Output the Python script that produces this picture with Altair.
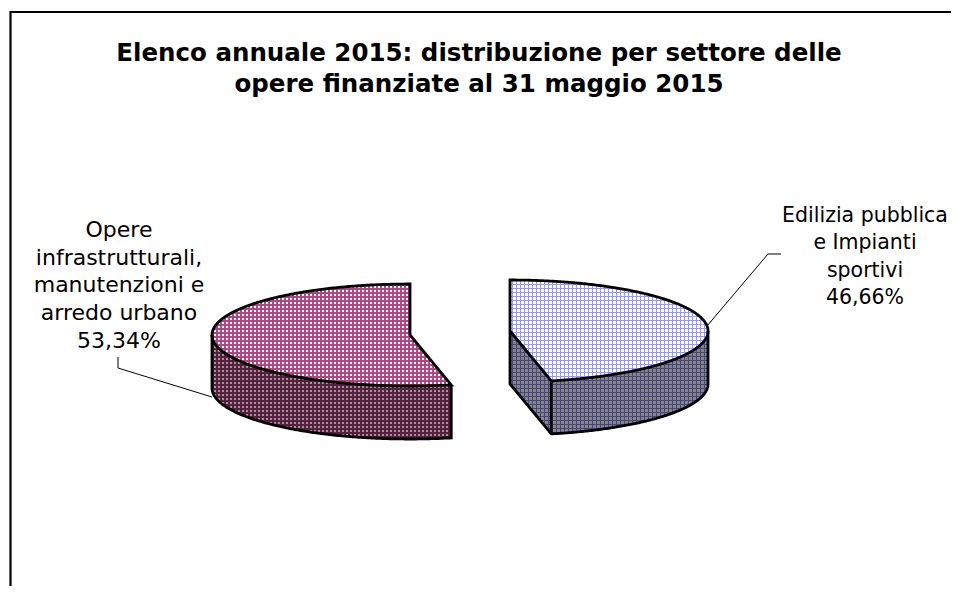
import altair as alt
import numpy as np
import pandas as pd

# Chart values
LABELS = ["Edilizia pubblica e Impianti sportivi", "Opere infrastrutturali, manutenzioni e arredo urbano"]
SHARES = [46.66, 53.34]
TITLE_LINES = ["Elenco annuale 2015: distribuzione per settore delle",
               "opere finanziate al 31 maggio 2015"]
RIGHT_TEXT = ["Edilizia pubblica", "e Impianti", "sportivi", "46,66%"]
LEFT_TEXT = ["Opere", "infrastrutturali,", "manutenzioni e", "arredo urbano", "53,34%"]

W, H = 943, 578
OX, OY = 8, 8  # page margin
RX, RY, DEPTH = 198.0, 51.0, 53.0
CR = (510 - OX, 331 - OY)
CL = (410 - OX, 335 - OY)
split = np.deg2rad(SHARES[0] * 3.6)

def ell(c, t, dy=0.0):
    return c[0] + RX * np.sin(t), c[1] - RY * np.cos(t) + dy

def stripes(lo, hi, color, pitch=4, on=1, phase=0):
    r, g, b = color
    solid, clear = f"rgba({r},{g},{b},1)", f"rgba({r},{g},{b},0)"
    stops = [alt.GradientStop(color=clear, offset=0)]
    k = int(np.floor((lo - phase) / pitch)) - 1
    while k * pitch + phase < hi:
        a = k * pitch + phase
        b_ = a + on
        if b_ > lo:
            fa = max(0.0, (a - lo) / (hi - lo))
            fb = min(1.0, (b_ - lo) / (hi - lo))
            stops += [alt.GradientStop(color=clear, offset=fa),
                      alt.GradientStop(color=solid, offset=fa),
                      alt.GradientStop(color=solid, offset=fb),
                      alt.GradientStop(color=clear, offset=fb)]
        k += 1
    stops.append(alt.GradientStop(color=clear, offset=1))
    return stops

SX = alt.Scale(domain=[0, W], range=[0, W])
SY = alt.Scale(domain=[0, H], range=[0, H])
X = alt.X("x:Q", scale=SX, axis=None)
Y = alt.Y("y:Q", scale=SY, axis=None)
Y2 = alt.Y2("y2:Q")

def area_frame(xs, top, bot):
    return pd.DataFrame({"x": xs, "y": top, "y2": bot})

def hatched(df, base, color, on):
    xlo, xhi = float(df.x.min()), float(df.x.max())
    ylo, yhi = float(df.y.min()), float(df.y2.max())
    layers = [alt.Chart(df).mark_area(fill=base, interpolate="linear")
              .encode(x=X, y=Y, y2=Y2)]
    gv = alt.Gradient(gradient="linear", x1=0, x2=1, y1=0, y2=0, stops=stripes(xlo, xhi, color, on=on))
    gh = alt.Gradient(gradient="linear", x1=0, x2=0, y1=0, y2=1, stops=stripes(ylo, yhi, color, on=on))
    for g in (gv, gh):
        layers.append(alt.Chart(df).mark_area(fill=g, interpolate="linear")
                      .encode(x=X, y=Y, y2=Y2))
    return layers

N = 160
lin = lambda x, p0, p1: p0[1] + (x - p0[0]) * (p1[1] - p0[1]) / (p1[0] - p0[0])
# Right slice: top face
t_up = np.linspace(0, np.pi / 2, N)
xr_up, yr_up = ell(CR, t_up)
t_lo = np.linspace(np.pi / 2, split, N)
xr_lo, yr_lo = ell(CR, t_lo)
tip_r = ell(CR, split)
lo_r = np.where(xr_up <= tip_r[0], lin(xr_up, CR, tip_r), np.interp(xr_up, xr_lo[::-1], yr_lo[::-1]))
right_top = area_frame(xr_up, yr_up, lo_r)
# Right slice: outer wall and cut wall
right_wall = area_frame(xr_lo[::-1], yr_lo[::-1], yr_lo[::-1] + DEPTH)
xc = np.linspace(CR[0], tip_r[0], 20)
right_cut = area_frame(xc, lin(xc, CR, tip_r), lin(xc, CR, tip_r) + DEPTH)

# Left slice: top face
t_l = np.linspace(split, 1.5 * np.pi, N)
xl_lo, yl_lo = ell(CL, t_l)
tip_l = ell(CL, split)
t_u = np.linspace(1.5 * np.pi, 2 * np.pi, N)
xl_up, yl_up = ell(CL, t_u)
ya_bot = np.interp(xl_up, xl_lo[::-1], yl_lo[::-1])
xb = np.linspace(CL[0] + 0.01, tip_l[0], 30)
yb_top = lin(xb, CL, tip_l)
yb_bot = np.interp(xb, xl_lo[::-1], yl_lo[::-1])
left_top = area_frame(np.r_[xl_up, xb], np.r_[yl_up, yb_top], np.r_[ya_bot, yb_bot])
left_wall = area_frame(xl_lo[::-1], yl_lo[::-1], yl_lo[::-1] + DEPTH)

def path(xs, ys, w=2.8, color="black"):
    df = pd.DataFrame({"x": xs, "y": ys, "i": np.arange(len(xs))})
    return alt.Chart(df).mark_line(color=color, strokeWidth=w, interpolate="linear",
                                   strokeJoin="miter", clip=False).encode(x=X, y=Y, order="i:Q")

def xy(p):
    return np.array([p[0] - OX, p[1] - OY], dtype=float)

layers = []
layers += hatched(left_wall, "#999999", (90, 30, 65), 2)
layers += hatched(left_top, "#FFFFFF", (176, 70, 130), 2)
layers += hatched(right_cut, "#858585", (70, 70, 130), 1)
layers += hatched(right_wall, "#858585", (70, 70, 130), 1)
layers += hatched(right_top, "#FFFFFF", (150, 150, 255), 1)

# Outlines, all derived from the same ellipse geometry
t_all_r = np.linspace(0, split, 2 * N)
ox, oy = ell(CR, t_all_r)
layers.append(path(np.r_[CR[0], ox, CR[0]], np.r_[CR[1], oy, CR[1]]))
t_wall = np.linspace(np.pi / 2, split, N)
wx, wy = ell(CR, t_wall, DEPTH)
layers.append(path(np.r_[ell(CR, np.pi / 2)[0], wx, CR[0], CR[0]],
                   np.r_[ell(CR, np.pi / 2)[1], wy, CR[1] + DEPTH, CR[1]]))
layers.append(path([tip_r[0], tip_r[0]], [tip_r[1], tip_r[1] + DEPTH]))

t_all_l = np.linspace(split, 2 * np.pi, 2 * N)
ox, oy = ell(CL, t_all_l)
layers.append(path(np.r_[CL[0], ox, CL[0]], np.r_[CL[1], oy, CL[1]]))
t_wall = np.linspace(split, 1.5 * np.pi, N)
wx, wy = ell(CL, t_wall, DEPTH)
layers.append(path(np.r_[tip_l[0], wx, ell(CL, 1.5 * np.pi)[0]],
                   np.r_[tip_l[1], wy, ell(CL, 1.5 * np.pi)[1]]))

# Leader lines
p = np.array([xy((707, 326)), xy((768, 254)), xy((781, 254))])
layers.append(path(p[:, 0], p[:, 1], w=1))
p = np.array([xy((118, 357)), xy((118, 368)), xy((212, 397))])
layers.append(path(p[:, 0], p[:, 1], w=1))

# Chart frame
p = np.array([[10 - OX + 0.5, H], [10 - OX + 0.5, 11.5 - OY + 0.5], [W, 11.5 - OY + 0.5]])
layers.append(path(p[:, 0], p[:, 1], w=2.2))

# Text
def text_layer(lines, cx, y0, dy, size, bold=False):
    df = pd.DataFrame({"x": cx - OX, "y": [y0 - OY + i * dy for i in range(len(lines))], "t": lines})
    return alt.Chart(df).mark_text(font="DejaVu Sans", fontSize=size, align="center", baseline="middle",
                                   fontWeight="bold" if bold else "normal", color="black",
                                   clip=False).encode(x=X, y=Y, text="t:N")

layers.append(text_layer(TITLE_LINES, 479, 54, 31, 24.5, True))
layers.append(text_layer(LEFT_TEXT, 119, 230, 27.7, 22))
layers.append(text_layer(RIGHT_TEXT, 865, 216, 27.4, 20.5))

chart = alt.layer(*layers).properties(
    width=W, height=H, padding=0, autosize=alt.AutoSizeParams(type="none"),
    background="white"
).configure_view(stroke=None)

chart.save("out.html", embed_options={"renderer": "svg", "actions": False})
